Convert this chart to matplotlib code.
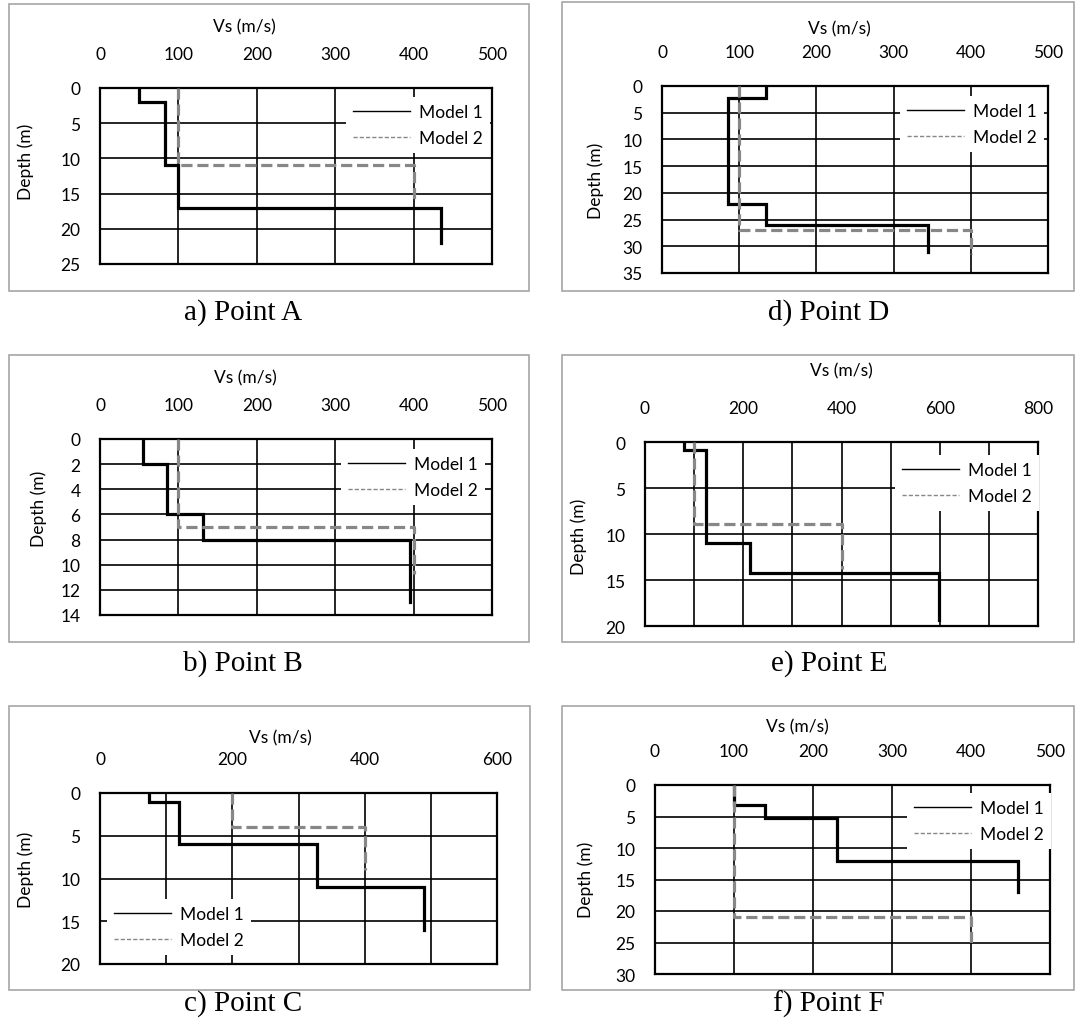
"""
Vs profiles (Model 1 vs Model 2) for points A-F, Excel-style panel layout.
"""

import numpy as np
import matplotlib
matplotlib.use("Agg")
import matplotlib.pyplot as plt
from matplotlib.lines import Line2D
from matplotlib.patches import Rectangle
from matplotlib.ticker import MultipleLocator

# ========================== Data ==========================
# layer boundaries in m and the Vs (m/s) of each layer
a_m1_depth = [0, 2, 11, 17, 22]
a_m1_vs = [50, 83, 100, 435]
a_m2_depth = [0, 11, 16]
a_m2_vs = [100, 400]

b_m1_depth = [0, 2, 6, 8, 13]
b_m1_vs = [55, 86, 131, 396]
b_m2_depth = [0, 7, 10.7]
b_m2_vs = [100, 400]

c_m1_depth = [0, 1, 6, 11, 16]
c_m1_vs = [74, 119, 328, 490]
c_m2_depth = [0, 4, 9]
c_m2_vs = [200, 400]

d_m1_depth = [0, 2.2, 22, 26, 31]
d_m1_vs = [135, 86, 135, 345]
d_m2_depth = [0, 27, 31.5]
d_m2_vs = [100, 400]

e_m1_depth = [0, 0.9, 11, 14.2, 19.4]
e_m1_vs = [79, 124, 213, 598]
e_m2_depth = [0, 8.9, 13.8]
e_m2_vs = [100, 400]

f_m1_depth = [0, 3.2, 5.2, 12, 17]
f_m1_vs = [100, 139, 230, 459]
f_m2_depth = [0, 21, 25]
f_m2_vs = [100, 400]

captions = ["a) Point A", "b) Point B", "c) Point C",
            "d) Point D", "e) Point E", "f) Point F"]
series_names = ["Model 1", "Model 2"]

# ========================== Layout (pixels) ==========================
W, H = 1075, 1020
SANS = ["Lato", "DejaVu Sans"]
SERIF = ["Liberation Serif", "DejaVu Serif"]
GRAY = "#878787"
FS = 12.5

panels = [
    # axes box, frame box, caption / Vs label / depth label centres, legend (left, centre y)
    dict(m1=(a_m1_depth, a_m1_vs), m2=(a_m2_depth, a_m2_vs), xmax=500, xstep=100, ymax=25, ystep=5,
         ax=(100, 89, 492, 265), frame=(9, 5, 529, 292), cap=(243, 313), vs=(244, 27), dep=(26, 162), leg=(346, 126)),
    dict(m1=(b_m1_depth, b_m1_vs), m2=(b_m2_depth, b_m2_vs), xmax=500, xstep=100, ymax=14, ystep=2,
         ax=(100, 440, 492, 616), frame=(9, 356, 529, 643), cap=(243, 664), vs=(245, 378), dep=(39, 509), leg=(341, 478)),
    dict(m1=(c_m1_depth, c_m1_vs), m2=(c_m2_depth, c_m2_vs), xmax=600, xstep=200, ymax=20, ystep=5,
         ax=(100, 794, 497, 965), frame=(9, 707, 530, 991), cap=(243, 1004), vs=(280, 738), dep=(26, 870), leg=(107, 928)),
    dict(m1=(d_m1_depth, d_m1_vs), m2=(d_m2_depth, d_m2_vs), xmax=500, xstep=100, ymax=35, ystep=5,
         ax=(662, 87, 1048, 274), frame=(562, 3, 1074, 292), cap=(829, 313), vs=(839, 29), dep=(596, 181), leg=(900, 125)),
    dict(m1=(e_m1_depth, e_m1_vs), m2=(e_m2_depth, e_m2_vs), xmax=800, xstep=200, ymax=20, ystep=5,
         ax=(645, 443, 1038, 627), frame=(562, 356, 1074, 643), cap=(829, 664), vs=(841, 371), dep=(579, 537), leg=(895, 484)),
    dict(m1=(f_m1_depth, f_m1_vs), m2=(f_m2_depth, f_m2_vs), xmax=500, xstep=100, ymax=30, ystep=5,
         ax=(655, 786, 1050, 975), frame=(562, 707, 1074, 991), cap=(829, 1004), vs=(797, 727), dep=(586, 880), leg=(907, 822)),
]


def fx(x):
    return x / W


def fy(y):
    return 1 - y / H


def profile(depth, vs):
    """Turn layer boundaries + velocities into a step polyline."""
    depth = np.asarray(depth, dtype=float)
    x = np.repeat(vs, 2)
    y = np.column_stack([depth[:-1], depth[1:]]).ravel()
    return x, y


fig = plt.figure(figsize=(W / 100, H / 100), dpi=100)

legend_handles = [
    Line2D([0], [0], color="black", lw=1.0),
    Line2D([0], [0], color=GRAY, lw=1.0, ls=(0, (3, 1.5))),
]

for p, cap in zip(panels, captions):
    x0, y0, x1, y1 = p["frame"]
    fig.add_artist(Rectangle((fx(x0), fy(y1)), (x1 - x0) / W, (y1 - y0) / H,
                             transform=fig.transFigure, fill=False, ec="#a6a6a6", lw=1.2))

    x0, y0, x1, y1 = p["ax"]
    ax = fig.add_axes([fx(x0), fy(y1), (x1 - x0) / W, (y1 - y0) / H])
    ax.set_xlim(0, p["xmax"])
    ax.set_ylim(p["ymax"], 0)
    ax.xaxis.set_major_locator(MultipleLocator(p["xstep"]))
    if p["xstep"] != 100:
        ax.xaxis.set_minor_locator(MultipleLocator(100))
    ax.yaxis.set_major_locator(MultipleLocator(p["ystep"]))
    ax.xaxis.tick_top()
    ax.tick_params(axis="x", which="both", length=0, pad=19, labelsize=FS)
    ax.tick_params(axis="y", which="both", length=0, pad=14, labelsize=FS)
    for lab in ax.get_xticklabels() + ax.get_yticklabels():
        lab.set_family(SANS)
    ax.set_axisbelow(True)
    ax.grid(True, which="both", color="black", lw=1.2)
    for sp in ax.spines.values():
        sp.set_color("black")
        sp.set_linewidth(1.6)

    xs, ys = profile(*p["m1"])
    ax.plot(xs, ys, color="black", lw=2.3, solid_joinstyle="miter", zorder=3)
    xs, ys = profile(*p["m2"])
    ax.plot(xs, ys, color=GRAY, lw=2.3, ls=(0, (3.5, 1.5)), zorder=4)

    lx, ly = p["leg"]
    leg = ax.legend(legend_handles, series_names, loc="center left",
                    bbox_to_anchor=(fx(lx), fy(ly)), bbox_transform=fig.transFigure,
                    frameon=True, facecolor="white", edgecolor="none", framealpha=1,
                    fancybox=False, borderpad=0.4, borderaxespad=0, handlelength=3.3,
                    handletextpad=0.5, labelspacing=0.6,
                    prop={"family": SANS, "size": FS})
    leg.set_zorder(10)

    fig.text(fx(p["vs"][0]), fy(p["vs"][1]), "Vs (m/s)", ha="center", va="center",
             fontsize=FS, family=SANS)
    fig.text(fx(p["dep"][0]), fy(p["dep"][1]), "Depth (m)", ha="center", va="center",
             rotation=90, fontsize=FS, family=SANS)
    fig.text(fx(p["cap"][0]), fy(p["cap"][1]), cap, ha="center", va="center",
             fontsize=21, family=SERIF)

fig.savefig("out.png", dpi=100)
